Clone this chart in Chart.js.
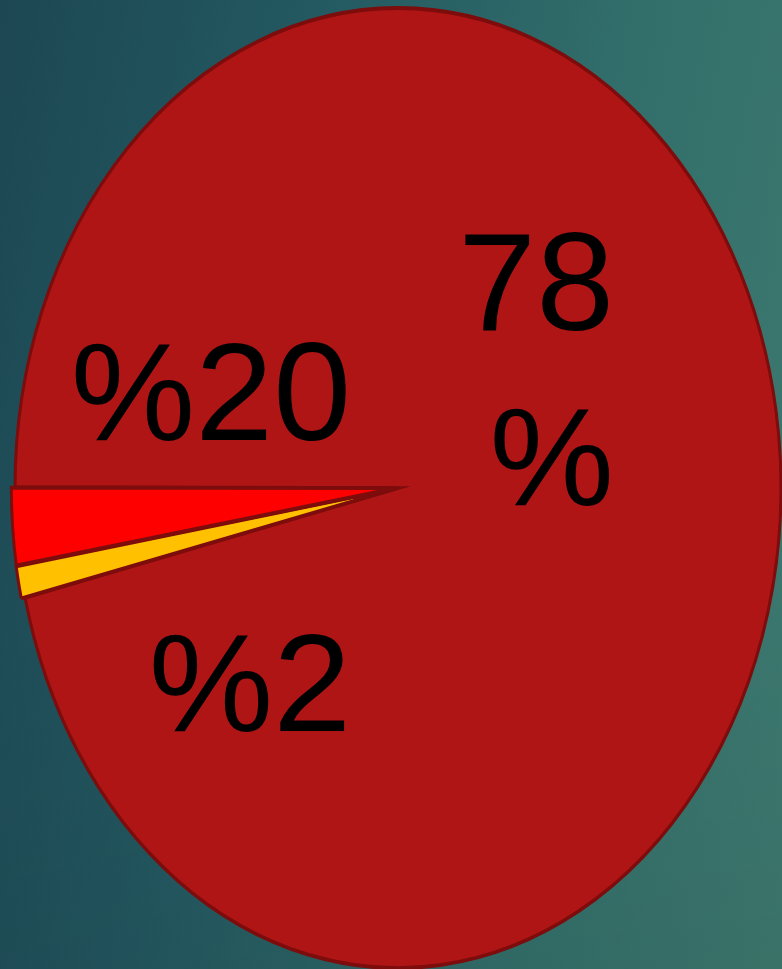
<!DOCTYPE html>
<html>
<head>
<meta charset="utf-8">
<script src="https://cdn.jsdelivr.net/npm/chart.js@4"></script>
<style>
  html, body { margin: 0; padding: 0; }
  body {
    width: 782px; height: 969px; overflow: hidden;
    background:
      linear-gradient(to bottom, rgba(0,0,0,0) 55%, rgba(0,0,0,0.07) 100%),
      linear-gradient(100deg, #1c4753 0%, #245a62 35%, #33706b 70%, #3e7a70 100%);
  }
  #wrap { position: relative; width: 782px; height: 969px; }
</style>
</head>
<body>
<div id="wrap"><canvas id="c"></canvas></div>
<script>
const categories = ['78 %', '%2', '%20'];
const values = [96.3, 1.1, 2.6];
const labelLines = [['78', '%'], ['%2'], ['%20']];
const sliceColors = ['#b01515', '#ffc000', '#ff0000'];
const borderColor = '#7d0c0c';

const ellipsePlugin = {
  id: 'ellipse',
  beforeDatasetsDraw(chart, args, opts) {
    const arc = chart.getDatasetMeta(0).data[0];
    const ctx = chart.ctx;
    ctx.save();
    ctx.translate(0, arc.y);
    ctx.scale(1, opts.scaleY);
    ctx.translate(0, -arc.y);
  },
  afterDatasetsDraw(chart) {
    chart.ctx.restore();
  }
};

const labelPlugin = {
  id: 'sliceLabels',
  afterDraw(chart, args, opts) {
    const arc = chart.getDatasetMeta(0).data[0];
    const ctx = chart.ctx;
    ctx.save();
    ctx.fillStyle = '#000';
    ctx.font = opts.font;
    ctx.textAlign = 'right';
    ctx.textBaseline = 'alphabetic';
    labelLines.forEach((lines, i) => {
      const p = opts.anchors[i];
      lines.forEach((t, j) => {
        ctx.fillText(t, arc.x + p.dx, arc.y + p.dy + j * opts.lineHeight);
      });
    });
    ctx.restore();
  }
};

new Chart(document.getElementById('c'), {
  type: 'pie',
  data: {
    labels: categories,
    datasets: [{
      data: values,
      backgroundColor: sliceColors,
      borderColor: borderColor,
      borderWidth: 3,
      borderJoinStyle: 'miter',
      offset: [0, 8, 8],
      clip: false
    }]
  },
  options: {
    responsive: true,
    maintainAspectRatio: false,
    animation: false,
    events: [],
    radius: 383,
    rotation: 270.1,
    layout: { padding: { left: 14, right: 0, top: 7, bottom: 0 } },
    plugins: {
      legend: { display: false },
      tooltip: { enabled: false },
      ellipse: { scaleY: 480 / 383 },
      sliceLabels: {
        font: '140px "Liberation Sans", Arial, sans-serif',
        lineHeight: 175,
        anchors: [
          { dx: 216, dy: -158 },
          { dx: -47, dy: 243 },
          { dx: -47, dy: -48 }
        ]
      }
    }
  },
  plugins: [ellipsePlugin, labelPlugin]
});
</script>
</body>
</html>
